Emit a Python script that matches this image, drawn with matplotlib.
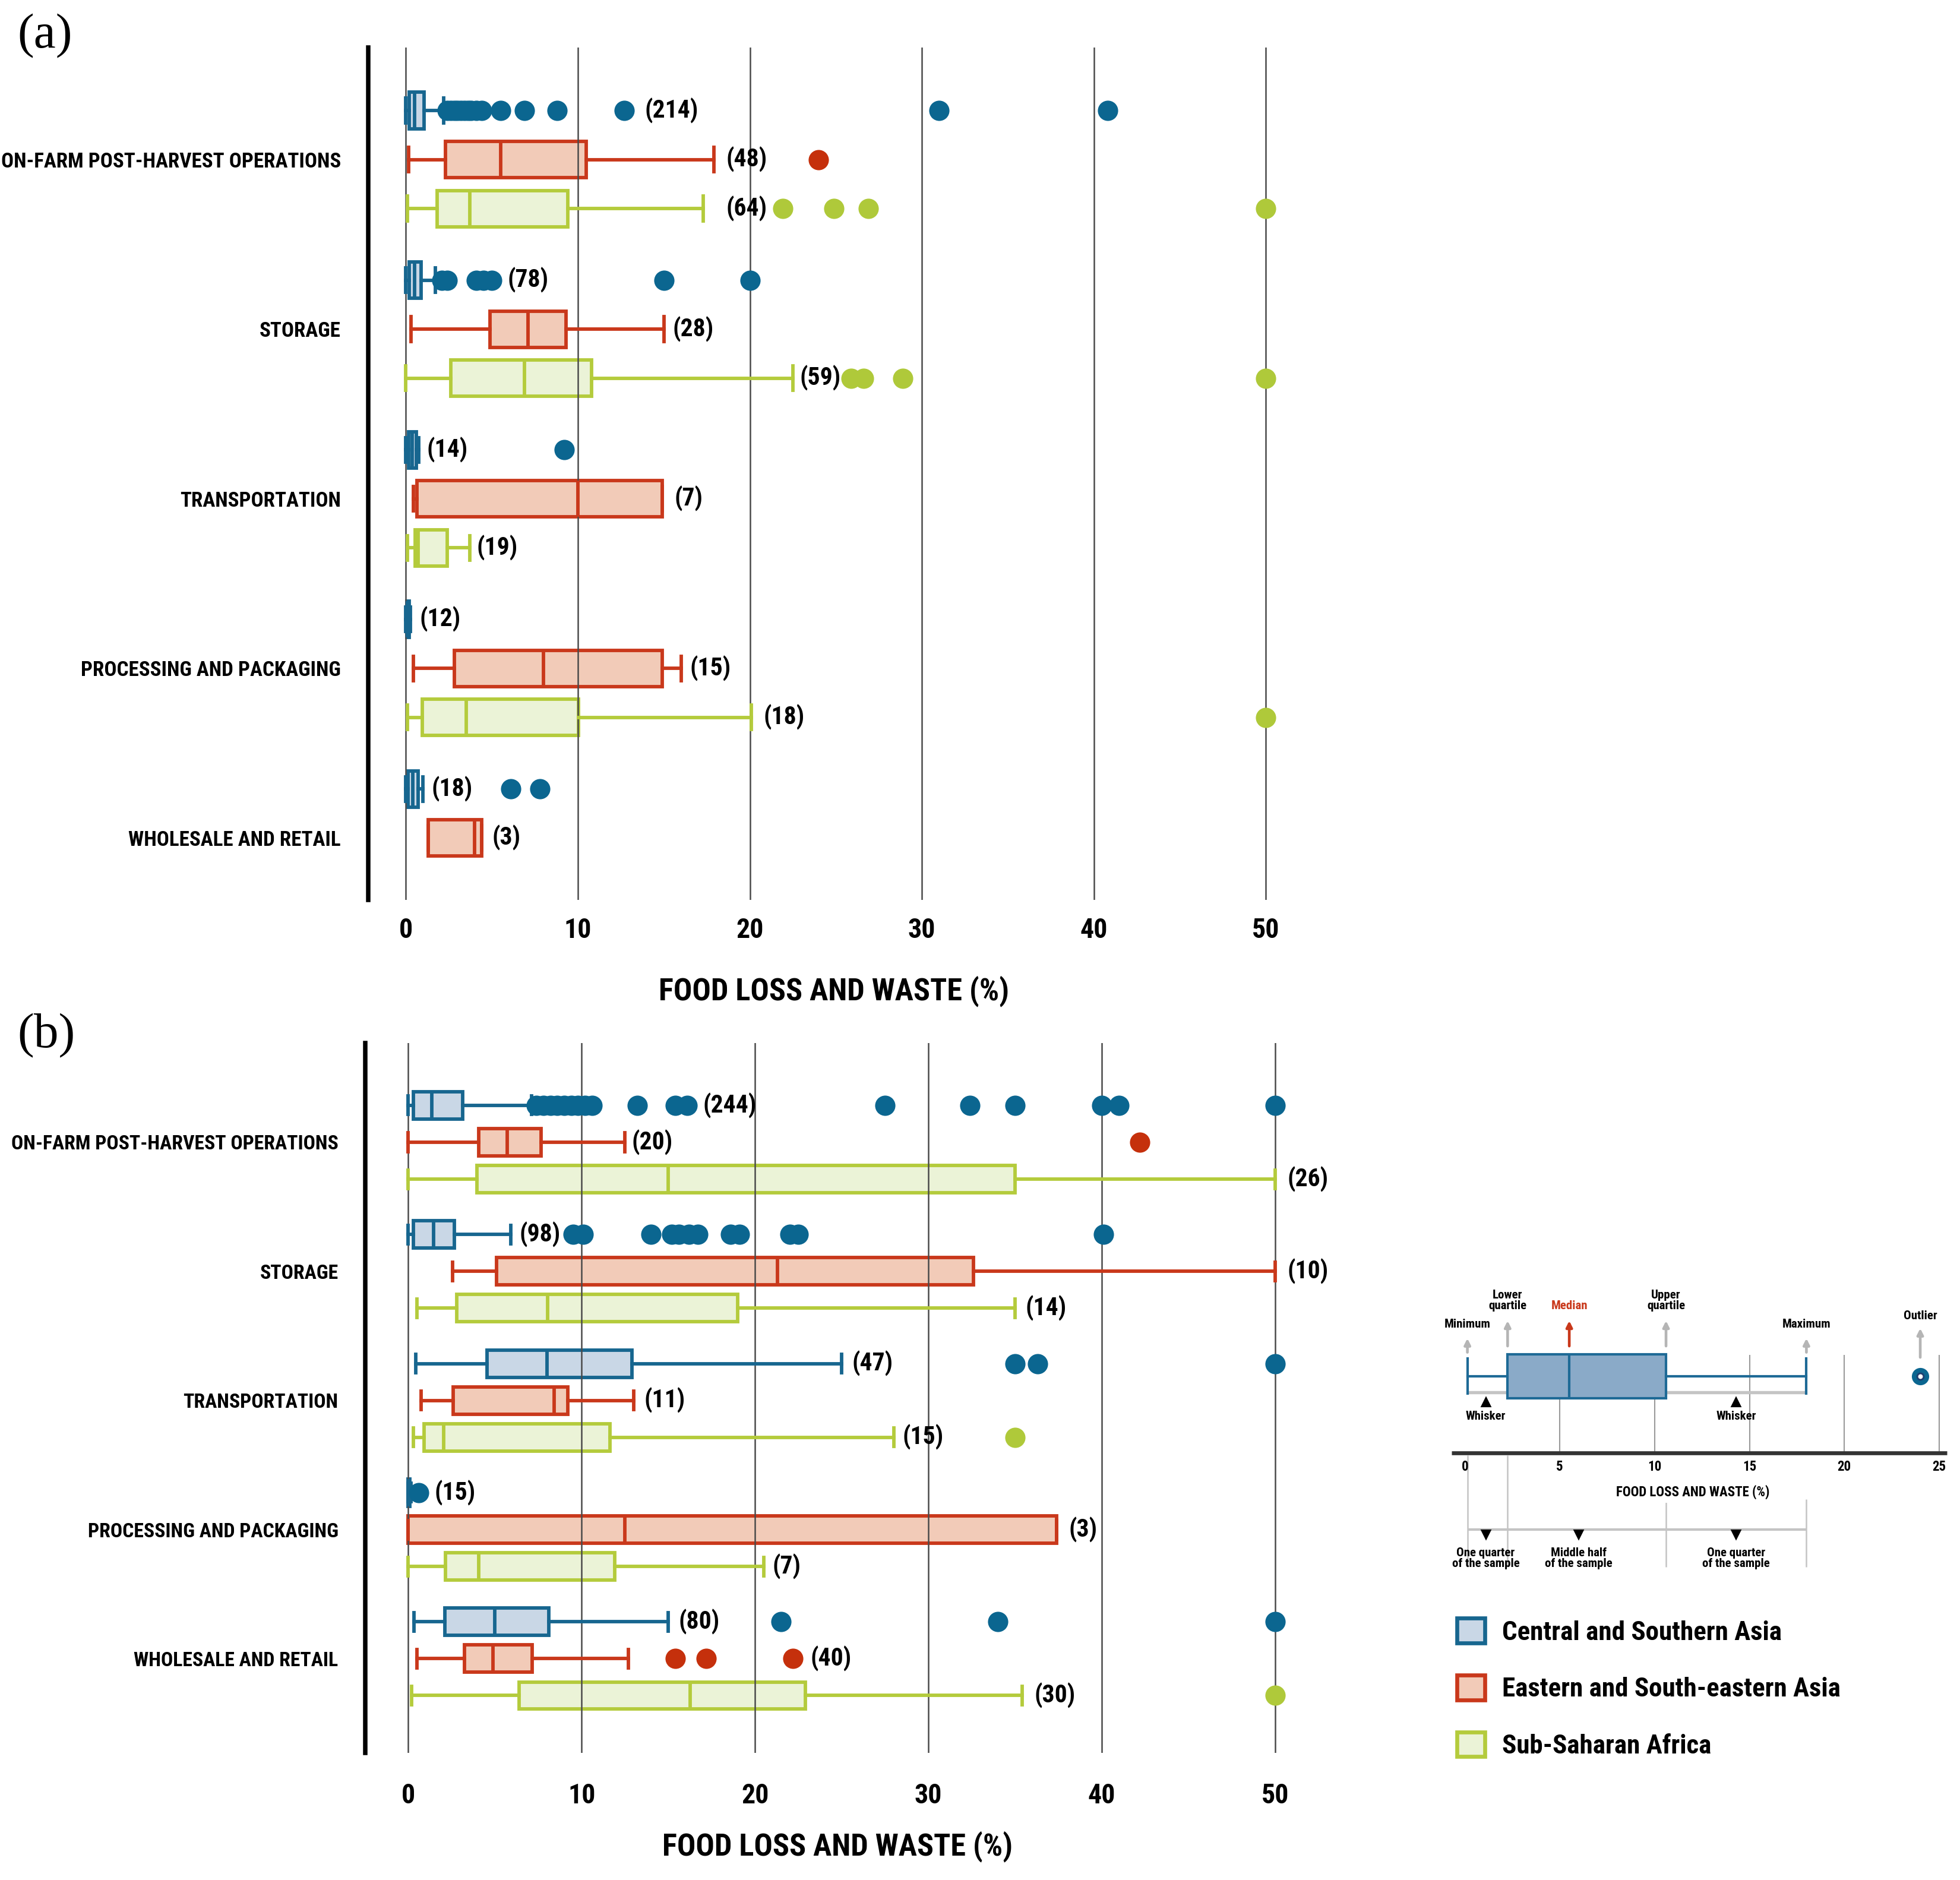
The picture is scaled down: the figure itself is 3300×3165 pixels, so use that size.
import matplotlib.pyplot as plt
import matplotlib.font_manager as fm
from matplotlib.patches import Patch

# pick the narrowest bold sans that is installed
fonts = {(f.name, f.stretch) for f in fm.fontManager.ttflist}
names = {f[0] for f in fonts}
stretch = 'normal'
if 'Roboto Condensed' in names:
    family = 'Roboto Condensed'
elif 'Liberation Sans Narrow' in names:
    family = 'Liberation Sans Narrow'
elif ('DejaVu Sans', 'condensed') in fonts or ('DejaVu Sans', 'semi-condensed') in fonts:
    family = 'DejaVu Sans'
    stretch = 'condensed'
else:
    family = 'Roboto'
plt.rcParams['font.family'] = [family, 'DejaVu Sans']
plt.rcParams['font.stretch'] = stretch
plt.rcParams['font.weight'] = 'bold'
plt.rcParams['axes.labelweight'] = 'bold'

stages = ['ON-FARM POST-HARVEST OPERATIONS', 'STORAGE', 'TRANSPORTATION',
          'PROCESSING AND PACKAGING', 'WHOLESALE AND RETAIL']
regions = ['Central and Southern Asia', 'Eastern and South-eastern Asia', 'Sub-Saharan Africa']
x_ticks = [0, 10, 20, 30, 40, 50]

edge_cols = ['#17668f', '#c9381b', '#b4cb3c']
fill_cols = ['#c9d7e6', '#f2cbb8', '#ebf3d7']
dot_cols = ['#0b6690', '#c5300c', '#afc93a']

# ---- panel (a): (whisker low, q1, median, q3, whisker high) per stage
a_csa = [(0.0, 0.2, 0.5, 1.05, 2.2), (0.0, 0.2, 0.5, 0.87, 1.7), (0.0, 0.15, 0.35, 0.6, 0.75),
         (0.0, 0.05, 0.1, 0.2, 0.25), (0.0, 0.12, 0.4, 0.71, 1.0)]
a_csa_out = [[2.4, 2.6, 2.8, 3.0, 3.2, 3.4, 3.6, 3.8, 4.1, 4.4, 5.5, 6.9, 8.8, 12.7, 31.0, 40.8],
             [2.1, 2.4, 4.1, 4.5, 5.0, 15.0, 20.0], [9.2], [], [6.1, 7.8]]
a_csa_n = [214, 78, 14, 12, 18]

a_esa = [(0.15, 2.3, 5.5, 10.5, 17.9), (0.3, 4.9, 7.1, 9.3, 15.0), (0.45, 0.65, 10.0, 14.9, 14.9),
         (0.45, 2.8, 8.0, 14.9, 16.0), (1.3, 1.3, 4.0, 4.4, 4.4)]
a_esa_out = [[24.0], [], [], [], []]
a_esa_n = [48, 28, 7, 15, 3]

a_ssa = [(0.1, 1.8, 3.7, 9.4, 17.3), (0.0, 2.6, 6.9, 10.8, 22.5), (0.1, 0.55, 0.7, 2.4, 3.7),
         (0.1, 0.95, 3.5, 10.05, 20.1), None]
a_ssa_out = [[21.9, 24.9, 26.9, 50.0], [25.9, 26.6, 28.9, 50.0], [], [50.0], []]
a_ssa_n = [64, 59, 19, 18, None]

# ---- panel (b)
b_csa = [(0.0, 0.3, 1.35, 3.15, 7.1), (0.0, 0.3, 1.45, 2.65, 5.9), (0.45, 4.55, 8.0, 12.9, 25.0),
         (0.0, 0.0, 0.05, 0.1, 0.15), (0.35, 2.1, 5.0, 8.1, 15.0)]
b_csa_out = [[7.4, 7.8, 8.2, 8.6, 9.0, 9.4, 9.8, 10.2, 10.6, 13.2, 15.4, 16.1, 27.5, 32.4, 35.0, 40.0, 41.0, 50.0],
             [9.5, 10.1, 14.0, 15.2, 15.6, 16.2, 16.7, 18.6, 19.1, 22.0, 22.5, 40.1],
             [35.0, 36.3, 50.0], [0.6], [21.5, 34.0, 50.0]]
b_csa_n = [244, 98, 47, 15, 80]

b_esa = [(0.0, 4.05, 5.7, 7.65, 12.5), (2.55, 5.1, 21.3, 32.6, 50.0), (0.75, 2.6, 8.4, 9.2, 13.0),
         (0.0, 0.0, 12.5, 37.4, 37.4), (0.5, 3.25, 4.9, 7.15, 12.7)]
b_esa_out = [[42.2], [], [], [], [15.4, 17.2, 22.2]]
b_esa_n = [20, 10, 11, 3, 40]

b_ssa = [(0.0, 3.95, 15.0, 35.0, 50.0), (0.5, 2.8, 8.05, 19.0, 35.0), (0.3, 0.9, 2.05, 11.65, 28.0),
         (0.0, 2.15, 4.05, 11.9, 20.5), (0.2, 6.4, 16.25, 22.9, 35.4)]
b_ssa_out = [[], [], [35.0], [], [50.0]]
b_ssa_n = [26, 14, 15, 7, 30]

# where the "(n)" labels start (x value)
a_lab = [[13.9, 5.9, 1.2, 0.8, 1.5], [18.6, 15.5, 15.6, 16.5, 5.0], [18.6, 22.9, 4.1, 20.8, None]]
b_lab = [[17.0, 6.4, 25.6, 1.5, 15.6], [12.9, 50.7, 13.6, 38.1, 23.2], [50.7, 35.6, 28.5, 21.0, 36.1]]

# legend schematic values
key_stats = (0.13, 2.25, 5.5, 10.6, 18.0)
key_outlier = [24.0]
key_ticks = [0, 5, 10, 15, 20, 25]


def draw_panel(ax, stats, outs, ns, labs, gap, ylim, ysize):
    for r in range(3):
        items, pos = [], []
        for g in range(5):
            if stats[r][g] is None:
                continue
            lo, q1, med, q3, hi = stats[r][g]
            items.append(dict(whislo=lo, q1=q1, med=med, q3=q3, whishi=hi, fliers=outs[r][g]))
            pos.append(g * gap + r)
            ax.text(labs[r][g], g * gap + r, f'({ns[r][g]})', ha='left', va='center', fontsize=10)
        art = ax.bxp(items, positions=pos, widths=0.74, capwidths=0.5, orientation='horizontal',
                     patch_artist=True, manage_ticks=False,
                     boxprops=dict(facecolor=fill_cols[r], edgecolor=edge_cols[r], linewidth=1.4),
                     whiskerprops=dict(color=edge_cols[r], linewidth=1.4),
                     capprops=dict(color=edge_cols[r], linewidth=1.4),
                     medianprops=dict(color=edge_cols[r], linewidth=1.4),
                     flierprops=dict(marker='o', markerfacecolor=dot_cols[r], markeredgecolor='none',
                                     markersize=8.2, linestyle='none'))
        for key in ['whiskers', 'caps', 'medians', 'fliers']:
            for a in art[key]:
                a.set_zorder(3)
    ax.set_yticks([g * gap + 1 for g in range(5)], stages)
    ax.set_xticks(x_ticks)
    ax.set_ylim(*ylim)
    ax.grid(axis='x', color='#4a4a4a', linewidth=0.6)
    ax.grid(axis='y', visible=False)
    ax.set_axisbelow(False)
    for s in ['top', 'right', 'bottom']:
        ax.spines[s].set_visible(False)
    ax.spines['left'].set_linewidth(1.8)
    ax.tick_params(axis='both', length=0)
    ax.tick_params(axis='y', pad=11, labelsize=ysize)


fig = plt.figure(figsize=(11, 10.55), dpi=300)

ax1 = fig.add_axes([0.1878, 0.5214, 0.4756, 0.4532])
draw_panel(ax1, [a_csa, a_esa, a_ssa], [a_csa_out, a_esa_out, a_ssa_out],
           [a_csa_n, a_esa_n, a_ssa_n], a_lab, 3.46, (16.1, -1.28), 8.4)
ax1.set_xlim(-2.2, 52)
ax1.tick_params(axis='x', pad=7, labelsize=11)
ax1.set_xlabel('FOOD LOSS AND WASTE (%)', fontsize=12.5, labelpad=13)

ax2 = fig.add_axes([0.1865, 0.0675, 0.4818, 0.3777])
draw_panel(ax2, [b_csa, b_esa, b_ssa], [b_csa_out, b_esa_out, b_ssa_out],
           [b_csa_n, b_esa_n, b_ssa_n], b_lab, 3.5, (17.56, -1.69), 8.1)
ax2.set_xlim(-2.46, 52)
ax2.tick_params(axis='x', pad=12, labelsize=11)
ax2.set_xlabel('FOOD LOSS AND WASTE (%)', fontsize=12.5, labelpad=9)

fig.text(0.009, 0.981, '(a)', fontsize=20, family='Liberation Serif', fontweight='normal',
         fontstretch='normal', va='center')
fig.text(0.009, 0.449, '(b)', fontsize=20, family='Liberation Serif', fontweight='normal',
         fontstretch='normal', va='center')

# ---- box plot key (inset)
ax3 = fig.add_axes([0.7387, 0.1597, 0.2565, 0.1618])
ax3.set_xlim(-0.9, 25.6)
ax3.set_ylim(1262, 1020)
ax3.axis('off')
ax3.vlines(key_ticks[1:], 1083, 1161, color='#9a9a9a', linewidth=0.5, zorder=1)
lo, q1, med, q3, hi = key_stats
ax3.hlines([1113, 1113], [lo, q3], [q1, hi], color='#c4c4c4', linewidth=1.3, zorder=1)
art = ax3.bxp([dict(whislo=lo, q1=q1, med=med, q3=q3, whishi=hi, fliers=key_outlier)],
              positions=[1100], widths=35, capwidths=28, orientation='horizontal',
              patch_artist=True, manage_ticks=False,
              boxprops=dict(facecolor='#8aaac8', edgecolor='#1e6a96', linewidth=1.0),
              whiskerprops=dict(color='#1e6a96', linewidth=1.0),
              capprops=dict(color='#1e6a96', linewidth=1.0),
              medianprops=dict(color='#1e6a96', linewidth=1.0),
              flierprops=dict(marker='o', markerfacecolor='#0b6690', markeredgecolor='none',
                              markersize=7, linestyle='none'))
ax3.plot(key_outlier, [1100], 'o', markerfacecolor='white', markeredgecolor='#1e3f70',
         markersize=2.6, markeredgewidth=0.7, zorder=5)
ax3.hlines(1161, -0.7, 25.4, color='#333333', linewidth=1.6)
for v in key_ticks:
    ax3.text(v, 1172, str(v), ha='center', va='center', fontsize=5.5)
ax3.text(12.0, 1192, 'FOOD LOSS AND WASTE (%)', ha='center', va='center', fontsize=5.5,
         bbox=dict(facecolor='white', edgecolor='none', pad=1.5), zorder=3)

arrow_gray = dict(arrowstyle='-|>', color='#b5b5b5', lw=1.1, mutation_scale=5)
arrow_red = dict(arrowstyle='-|>', color='#c9381b', lw=1.1, mutation_scale=5)
ax3.annotate('', xy=(lo, 1066), xytext=(lo, 1085), arrowprops=arrow_gray)
ax3.annotate('', xy=(q1, 1052), xytext=(q1, 1080), arrowprops=arrow_gray)
ax3.annotate('', xy=(med, 1052), xytext=(med, 1080), arrowprops=arrow_red)
ax3.annotate('', xy=(q3, 1052), xytext=(q3, 1080), arrowprops=arrow_gray)
ax3.annotate('', xy=(hi, 1066), xytext=(hi, 1085), arrowprops=arrow_gray)
ax3.annotate('', xy=(key_outlier[0], 1058), xytext=(key_outlier[0], 1089), arrowprops=arrow_gray)
ax3.text(lo, 1059, 'Minimum', ha='center', va='center', fontsize=5)
ax3.text(q1, 1040, 'Lower\nquartile', ha='center', va='center', fontsize=5, linespacing=0.95)
ax3.text(med, 1044, 'Median', ha='center', va='center', fontsize=5, color='#c9381b')
ax3.text(q3, 1040, 'Upper\nquartile', ha='center', va='center', fontsize=5, linespacing=0.95)
ax3.text(hi, 1059, 'Maximum', ha='center', va='center', fontsize=5)
ax3.text(key_outlier[0], 1052, 'Outlier', ha='center', va='center', fontsize=5)
for wx in [1.1, 14.3]:
    ax3.plot([wx], [1121], marker='^', color='black', markersize=3)
    ax3.text(wx, 1132, 'Whisker', ha='center', va='center', fontsize=5)

ax3.vlines([lo, q1, q3, hi], [1163, 1163, 1198, 1198], 1252, color='#c4c4c4', linewidth=0.6)
ax3.hlines(1222, lo, hi, color='#c4c4c4', linewidth=1.0)
for qx, txt in zip([1.1, 6.0, 14.3], ['One quarter\nof the sample', 'Middle half\nof the sample',
                                     'One quarter\nof the sample']):
    ax3.plot([qx], [1226], marker='v', color='black', markersize=3)
    ax3.text(qx, 1245, txt, ha='center', va='center', fontsize=5, linespacing=0.95)

handles = [Patch(facecolor=fill_cols[i], edgecolor=edge_cols[i], linewidth=1.6) for i in range(3)]
fig.legend(handles, regions, loc='upper left', bbox_to_anchor=(0.731, 0.152), frameon=False,
           fontsize=10.8, handlelength=1.05, handleheight=1.05, labelspacing=1.12, handletextpad=0.65)

fig.savefig('out.png', dpi=300)
